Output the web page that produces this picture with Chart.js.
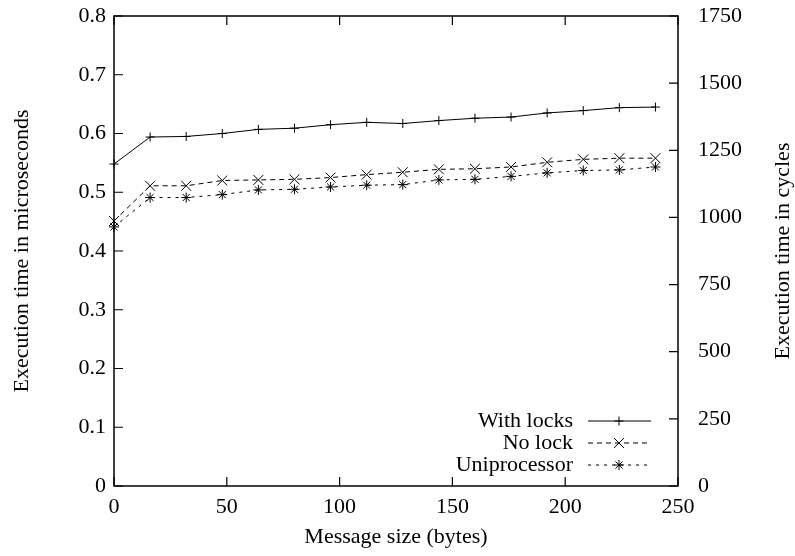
<!DOCTYPE html>
<html>
<head>
<meta charset="utf-8">
<script src="https://cdn.jsdelivr.net/npm/chart.js@4/dist/chart.umd.min.js"></script>
<style>
  body { margin: 0; background: #fff; }
</style>
</head>
<body>
<canvas id="plot" width="795" height="556"></canvas>
<script>
// message sizes (bytes) and times (microseconds)
var sizes = [0, 16, 32, 48, 64, 80, 96, 112, 128, 144, 160, 176, 192, 208, 224, 240];
var withLocks = [0.548, 0.594, 0.595, 0.600, 0.607, 0.609, 0.615, 0.619, 0.617, 0.622, 0.626, 0.628, 0.635, 0.639, 0.644, 0.645];
var noLock = [0.451, 0.511, 0.511, 0.520, 0.521, 0.522, 0.525, 0.530, 0.534, 0.539, 0.540, 0.543, 0.551, 0.556, 0.558, 0.558];
var uniproc = [0.441, 0.491, 0.491, 0.496, 0.504, 0.505, 0.509, 0.512, 0.513, 0.521, 0.522, 0.527, 0.533, 0.537, 0.538, 0.543];

var xTicks = [0, 50, 100, 150, 200, 250];
var yTicks = [0, 0.1, 0.2, 0.3, 0.4, 0.5, 0.6, 0.7, 0.8];
var y2Ticks = [0, 250, 500, 750, 1000, 1250, 1500, 1750];

var seriesNames = ['With locks', 'No lock', 'Uniprocessor'];

var FONT = { family: 'Liberation Serif', size: 22 };

function pts(vals) {
  return sizes.map(function (s, i) { return { x: s, y: vals[i] }; });
}

function setTicks(list) {
  return function (scale) {
    scale.ticks = list.map(function (v) { return { value: v }; });
  };
}

// fixed axis box sizes so the plot frame lands where the original has it
function fitV(width) {
  return function (s) {
    s.width = width;
    s.paddingTop = 16;
    s.paddingBottom = 0;
  };
}

function drawMarker(ctx, style, r, x, y) {
  if (Chart.helpers && Chart.helpers.drawPoint) {
    Chart.helpers.drawPoint(ctx, { pointStyle: style, radius: r, rotation: 0, borderWidth: 1 }, x, y);
    return;
  }
  ctx.beginPath();
  if (style === 'cross' || style === 'star') {
    ctx.moveTo(x - r, y); ctx.lineTo(x + r, y);
    ctx.moveTo(x, y - r); ctx.lineTo(x, y + r);
  }
  if (style === 'crossRot' || style === 'star') {
    var d = r * Math.SQRT1_2;
    ctx.moveTo(x - d, y - d); ctx.lineTo(x + d, y + d);
    ctx.moveTo(x - d, y + d); ctx.lineTo(x + d, y - d);
  }
  ctx.stroke();
}

// gnuplot style frame, inward ticks, key and right axis title
var gnuplotLook = {
  id: 'gnuplotLook',
  afterDraw: function (chart) {
    var ctx = chart.ctx, a = chart.chartArea, sc = chart.scales;
    ctx.save();
    ctx.strokeStyle = '#000';
    ctx.lineWidth = 1.5;
    ctx.strokeRect(a.left, a.top, a.right - a.left, a.bottom - a.top);

    ctx.lineWidth = 1.2;
    ctx.beginPath();
    sc.x.ticks.forEach(function (t) {
      var p = sc.x.getPixelForValue(t.value);
      ctx.moveTo(p, a.bottom); ctx.lineTo(p, a.bottom - 9);
      ctx.moveTo(p, a.top); ctx.lineTo(p, a.top + 9);
    });
    sc.y.ticks.forEach(function (t) {
      var p = sc.y.getPixelForValue(t.value);
      ctx.moveTo(a.left, p); ctx.lineTo(a.left + 9, p);
    });
    sc.y2.ticks.forEach(function (t) {
      var p = sc.y2.getPixelForValue(t.value);
      ctx.moveTo(a.right, p); ctx.lineTo(a.right - 9, p);
    });
    ctx.stroke();

    // key
    ctx.font = FONT.size + 'px ' + FONT.family;
    ctx.fillStyle = '#000';
    ctx.textAlign = 'right';
    ctx.textBaseline = 'middle';
    var rows = [a.bottom - 65, a.bottom - 43, a.bottom - 21];
    chart.data.datasets.forEach(function (ds, i) {
      var y = rows[i];
      ctx.fillText(seriesNames[i], a.right - 105, y);
      ctx.lineWidth = 1;
      ctx.setLineDash(ds.borderDash || []);
      ctx.beginPath();
      ctx.moveTo(a.right - 90, y); ctx.lineTo(a.right - 27, y);
      ctx.stroke();
      ctx.setLineDash([]);
      drawMarker(ctx, ds.pointStyle, ds.pointRadius, a.right - 59, y);
    });

    // right axis title, reading bottom to top
    ctx.translate(783, (a.top + a.bottom) / 2);
    ctx.rotate(-Math.PI / 2);
    ctx.textAlign = 'center';
    ctx.fillText('Execution time in cycles', 0, 0);
    ctx.restore();
  }
};

var ctx = document.getElementById('plot').getContext('2d');
var plot = new Chart(ctx, {
  type: 'line',
  data: {
    datasets: [{
      label: seriesNames[0],
      data: pts(withLocks),
      borderColor: '#000',
      borderWidth: 1,
      pointStyle: 'cross',
      pointRadius: 4.5,
      pointBorderColor: '#000',
      pointBorderWidth: 1,
      clip: false
    }, {
      label: seriesNames[1],
      data: pts(noLock),
      borderColor: '#000',
      borderWidth: 1,
      borderDash: [5, 4],
      pointStyle: 'crossRot',
      pointRadius: 7,
      pointBorderColor: '#000',
      pointBorderWidth: 1,
      clip: false
    }, {
      label: seriesNames[2],
      data: pts(uniproc),
      borderColor: '#000',
      borderWidth: 1,
      borderDash: [3, 5],
      pointStyle: 'star',
      pointRadius: 5,
      pointBorderColor: '#000',
      pointBorderWidth: 1,
      clip: false
    }]
  },
  options: {
    responsive: false,
    animation: false,
    layout: { padding: 0 },
    plugins: { legend: { display: false }, tooltip: { enabled: false } },
    scales: {
      x: {
        type: 'linear',
        min: 0,
        max: 250,
        afterBuildTicks: setTicks(xTicks),
        afterFit: function (s) { s.height = 70; s.paddingLeft = 0; s.paddingRight = 0; },
        grid: { display: false, drawTicks: false },
        border: { display: false },
        ticks: { font: FONT, color: '#000', padding: 8, maxRotation: 0, autoSkip: false },
        title: { display: true, text: 'Message size (bytes)', font: FONT, color: '#000', padding: { top: 0, bottom: 6 } }
      },
      y: {
        position: 'left',
        min: 0,
        max: 0.8,
        afterBuildTicks: setTicks(yTicks),
        afterFit: fitV(114),
        grid: { display: false, drawTicks: false },
        border: { display: false },
        ticks: { font: FONT, color: '#000', padding: 8, callback: function (v) { return String(v); } },
        title: { display: true, text: 'Execution time in microseconds', font: FONT, color: '#000', padding: { top: 9, bottom: 0 } }
      },
      y2: {
        position: 'right',
        min: 0,
        max: 1750,
        afterBuildTicks: setTicks(y2Ticks),
        afterFit: fitV(117),
        grid: { display: false, drawTicks: false },
        border: { display: false },
        ticks: { font: FONT, color: '#000', padding: 20, callback: function (v) { return String(v); } }
      }
    }
  },
  plugins: [gnuplotLook]
});
</script>
</body>
</html>
